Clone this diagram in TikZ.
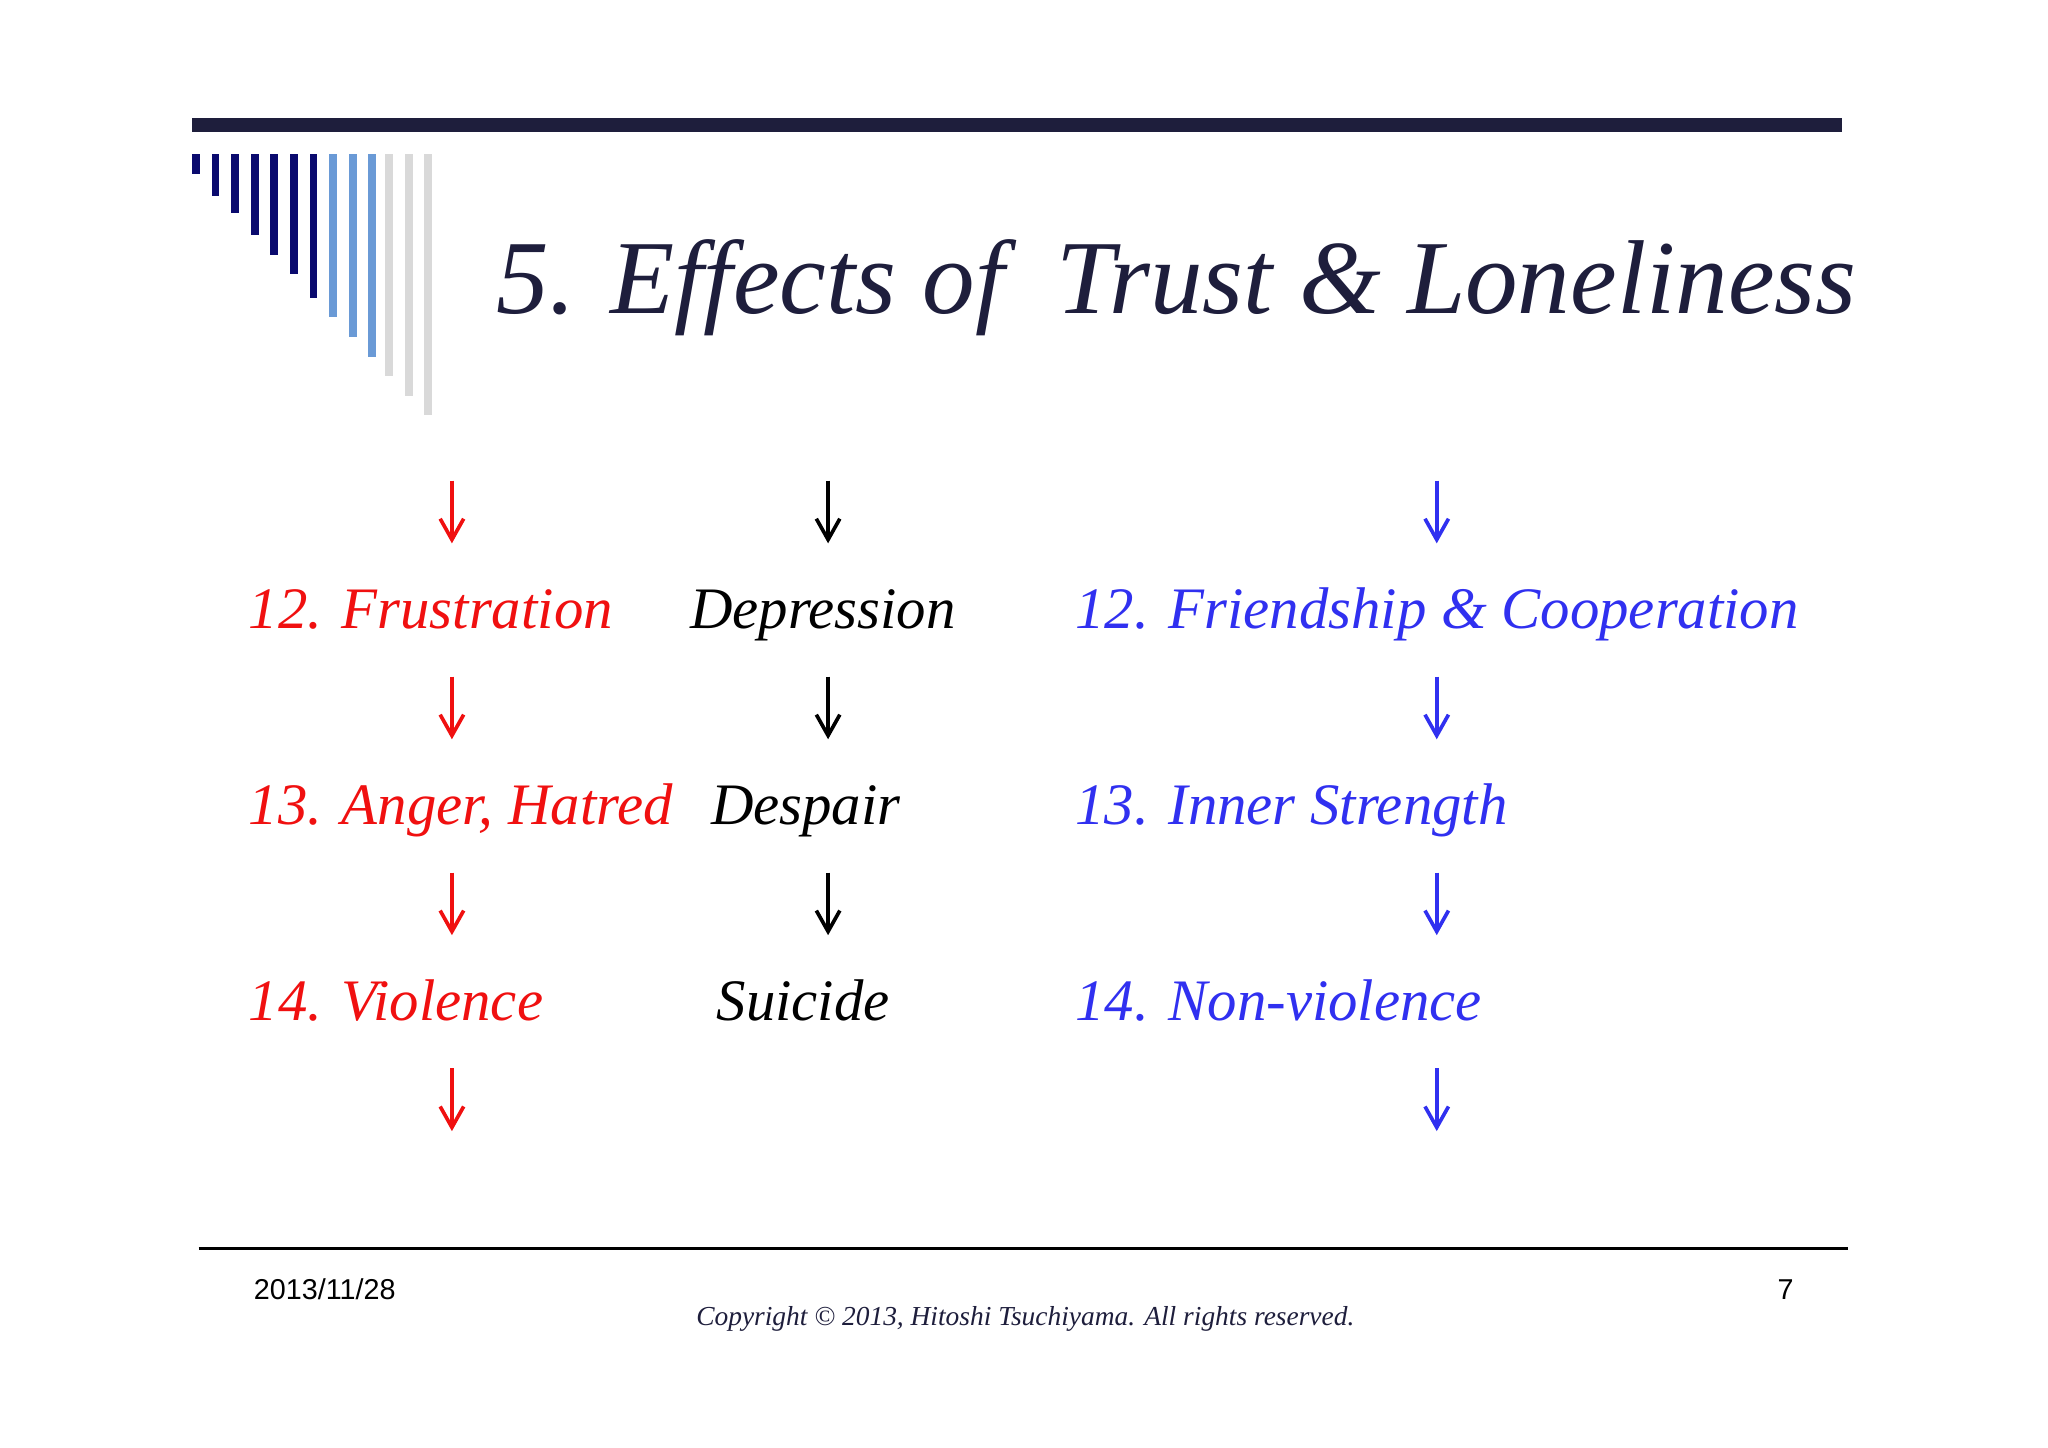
\documentclass[tikz,border=0pt]{standalone}
\usepackage{fontspec}
\setmainfont{Liberation Serif}
\setsansfont{Liberation Sans}
\usetikzlibrary{arrows.meta}
\definecolor{navy}{HTML}{0A0A6E}
\definecolor{dark}{HTML}{1E1E3C}
\definecolor{lblue}{HTML}{6A9AD6}
\definecolor{lgray}{HTML}{D9D9D9}
\definecolor{myblue}{HTML}{3030F0}
\definecolor{myred}{HTML}{F01010}
\tikzset{
 dn/.style={-{Straight Barb[length=8pt,width=9pt]},line width=1.4pt},
 txt/.style={font=\fontsize{22.5}{26}\selectfont\itshape,inner sep=0pt},
}
\begin{document}
\begin{tikzpicture}[x=0.5pt,y=-0.5pt]
\useasboundingbox (0,0) rectangle (1568,1108);
\fill[white] (0,0) rectangle (1568,1108);
\fill[dark] (147,90) rectangle (1410,101);
\foreach \x/\b/\c in {150/133/navy,165/150/navy,180/163/navy,195/180/navy,210/195/navy,225/210/navy,240/228/navy,255/243/lblue,270/258/lblue,285/273/lblue,298/288/lgray,313/303/lgray,328/318/lgray}
  \fill[\c] (\x-3,118) rectangle (\x+3,\b);
\node[anchor=base west,inner sep=0pt,text=dark,font=\fontsize{40.2}{43}\selectfont\itshape] (title) at (380,240) {5. Effects of \ Trust \& Loneliness};
% texts
\node[txt,anchor=base west,text=myred] (r1) at (190,481) {12. Frustration};
\node[txt,anchor=base west,text=myred] (r2) at (190,631) {13. Anger, Hatred};
\node[txt,anchor=base west,text=myred] (r3) at (190,781) {14. Violence};
\node[txt,anchor=base,text=black] (k1) at (630,481) {Depression};
\node[txt,anchor=base,text=black] (k2) at (617,631) {Despair};
\node[txt,anchor=base,text=black] (k3) at (615,781) {Suicide};
\node[txt,anchor=base west,text=myblue] (b1) at (823,481) {12. Friendship \& Cooperation};
\node[txt,anchor=base west,text=myblue] (b2) at (823,631) {13. Inner Strength};
\node[txt,anchor=base west,text=myblue] (b3) at (823,781) {14. Non-violence};
% arrows
\foreach \y [count=\i] in {368,518,668,818}{
  \coordinate (ra\i) at (346,\y); \coordinate (rb\i) at (346,\y+48);
  \draw[dn,myred] (ra\i) -- (rb\i);
  \coordinate (ba\i) at (1100,\y); \coordinate (bb\i) at (1100,\y+48);
  \draw[dn,myblue] (ba\i) -- (bb\i);
}
\foreach \y [count=\i] in {368,518,668}{
  \coordinate (ka\i) at (634,\y); \coordinate (kb\i) at (634,\y+48);
  \draw[dn,black] (ka\i) -- (kb\i);
}
\draw[line width=1.2pt] (152,956) -- (1415,956);
\node[anchor=base west,inner sep=0pt,font=\sffamily\fontsize{11}{13}\selectfont] (date) at (194,995) {2013/11/28};
\node[anchor=base,inner sep=0pt,font=\sffamily\fontsize{11}{13}\selectfont] (pg) at (1367,995) {7};
\node[anchor=base,inner sep=0pt,text=dark,font=\fontsize{10.5}{13}\selectfont\itshape] (copy) at (785,1015) {Copyright © 2013, Hitoshi Tsuchiyama. All rights reserved.};
\end{tikzpicture}
\end{document}
